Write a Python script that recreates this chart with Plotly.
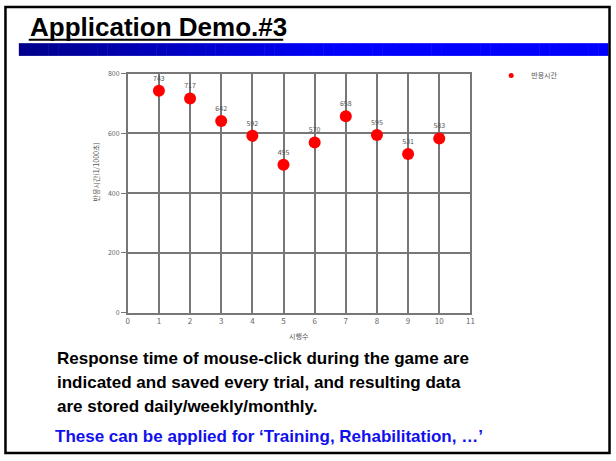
import plotly.graph_objects as go

# ---- data ----
trials = [1, 2, 3, 4, 5, 6, 7, 8, 9, 10]
response_ms = [743, 717, 642, 592, 495, 570, 658, 595, 531, 583]
series_name = "반응시간"
y_title = "반응시간(1/1000초)"
x_title = "시행수"
x_ticks = list(range(0, 12))
y_ticks = [0, 200, 400, 600, 800]

slide_title = "Application Demo.#3"
body_lines = [
    "Response time of mouse-click during the game are",
    "indicated and saved every trial, and resulting data",
    "are stored daily/weekly/monthly.",
]
footer_line = "These can be applied for ‘Training, Rehabilitation, …’"

W, H = 616, 461


def px(x):
    return x / W


def py(y):
    return 1 - y / H


fig = go.Figure()
fig.add_trace(go.Scatter(
    x=trials, y=response_ms, mode="markers+text", name=series_name,
    text=[str(v) for v in response_ms], textposition="top center",
    textfont=dict(size=7, color="#555555", family="Noto Sans CJK KR"),
    marker=dict(size=12, color="#ff0000"),
    cliponaxis=False, showlegend=False,
))
# legend entry with small marker (as in the reference)
fig.add_trace(go.Scatter(
    x=[None], y=[None], mode="markers", name=series_name,
    marker=dict(size=5, color="#ff0000"), showlegend=True,
))

shapes = []
# gradient bar
x0, x1 = 17, 612
n = 60
for i in range(n):
    a = x0 + (x1 - x0) * i / n
    b = x0 + (x1 - x0) * (i + 1) / n + 0.5
    t = min(1.0, (i / (n - 1)) / 0.55)
    bl = int(140 + (255 - 140) * t)
    shapes.append(dict(type="rect", xref="paper", yref="paper",
                       x0=px(a), x1=px(b), y0=py(51), y1=py(38),
                       line=dict(width=0), fillcolor=f"rgb(0,0,{bl})", layer="below"))
# border
shapes.append(dict(type="rect", xref="paper", yref="paper",
                   x0=px(3.5), x1=px(613.5), y0=py(457), y1=py(1),
                   line=dict(color="black", width=2.5), fillcolor="rgba(0,0,0,0)"))
# title underline
shapes.append(dict(type="line", xref="paper", yref="paper",
                   x0=px(27), x1=px(284), y0=py(34.5), y1=py(34.5),
                   line=dict(color="black", width=2)))

annotations = [
    dict(text=f"<b>{slide_title}</b>", xref="paper", yref="paper",
         x=px(26), y=py(21), xanchor="left", yanchor="middle", showarrow=False,
         font=dict(family="Liberation Sans, Arial", size=26, color="black")),
    dict(text=y_title, xref="paper", yref="paper", x=px(95), y=py(170),
         xanchor="center", yanchor="middle", textangle=-90, showarrow=False,
         font=dict(family="Noto Sans CJK KR", size=7, color="#555555")),
    dict(text=x_title, xref="paper", yref="paper", x=px(300), y=py(337),
         xanchor="center", yanchor="middle", showarrow=False,
         font=dict(family="Noto Sans CJK KR", size=7, color="#555555")),
]
for i, line in enumerate(body_lines):
    annotations.append(dict(text=f"<b>{line}</b>", xref="paper", yref="paper",
                            x=px(54), y=py(360 + 24.5 * i), xanchor="left", yanchor="middle",
                            showarrow=False,
                            font=dict(family="Liberation Sans, Arial", size=17, color="black")))
annotations.append(dict(text=f"<b>{footer_line}</b>", xref="paper", yref="paper",
                        x=px(51), y=py(440), xanchor="left", yanchor="middle", showarrow=False,
                        font=dict(family="Liberation Sans, Arial", size=17, color="#1010ee")))

grid_col = "#777777"
fig.update_layout(
    width=W, height=H, margin=dict(l=0, r=0, t=0, b=0),
    paper_bgcolor="white", plot_bgcolor="white",
    shapes=shapes, annotations=annotations,
    showlegend=True,
    legend=dict(x=px(494), y=py(71), xanchor="left", yanchor="middle",
                font=dict(family="Noto Sans CJK KR", size=7, color="#555555"),
                bgcolor="rgba(0,0,0,0)", itemwidth=30, tracegroupgap=0),
    xaxis=dict(domain=[px(127), px(473)], range=[0, 11], tickvals=x_ticks,
               showgrid=True, gridcolor=grid_col, gridwidth=1.5, zeroline=False,
               showline=True, linecolor=grid_col, linewidth=1.5, mirror=True,
               ticks="", tickfont=dict(family="Noto Sans CJK KR", size=8, color="#666666")),
    yaxis=dict(domain=[py(313.3), py(69.3)], range=[0, 800], tickvals=y_ticks,
               showgrid=True, gridcolor=grid_col, gridwidth=1.5, zeroline=False,
               showline=True, linecolor=grid_col, linewidth=1.5, mirror=True,
               ticks="outside", ticklen=5, tickcolor=grid_col, tickwidth=1,
               tickfont=dict(family="Noto Sans CJK KR", size=7, color="#666666")),
)

fig.write_html(
    "out.html",
    config={"displayModeBar": False},
    post_script=(
        "document.documentElement.style.margin='0';"
        "document.body.style.margin='0';"
        "document.body.style.overflow='hidden';"
        "var gd=document.getElementById('{plot_id}');"
        "gd.style.position='absolute';gd.style.top='0px';gd.style.left='0px';"
    ),
)
